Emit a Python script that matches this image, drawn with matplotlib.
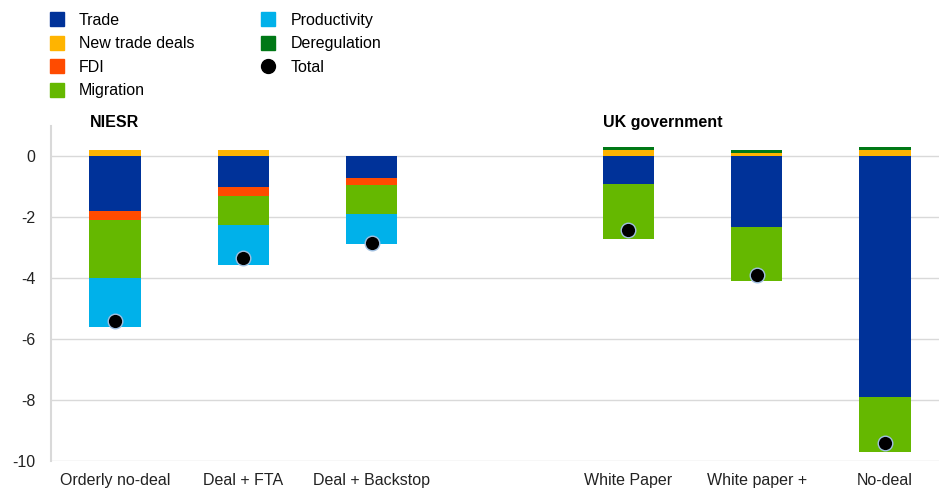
import matplotlib
matplotlib.use("Agg")
import matplotlib.pyplot as plt
from matplotlib.lines import Line2D
import numpy as np

plt.rcParams['font.family'] = ['Liberation Sans', 'DejaVu Sans']

categories = ["Orderly no-deal", "Deal + FTA", "Deal + Backstop",
              "White Paper", "White paper +", "No-deal"]
positions = [0, 1, 2, 4, 5, 6]

trade = [-1.8, -1.0, -0.7, -0.9, -2.3, -7.9]
new_trade_deals = [0.2, 0.2, 0.0, 0.2, 0.1, 0.2]
fdi = [-0.3, -0.3, -0.25, 0.0, 0.0, 0.0]
migration = [-1.9, -0.95, -0.93, -1.8, -1.8, -1.8]
productivity = [-1.6, -1.3, -1.0, 0.0, 0.0, 0.0]
deregulation = [0.0, 0.0, 0.0, 0.1, 0.1, 0.1]
total = [-5.4, -3.35, -2.85, -2.4, -3.9, -9.4]

groups = ["NIESR", "UK government"]
group_first_category = [0, 3]

colors = {
    "Trade": "#003299",
    "New trade deals": "#FFB400",
    "FDI": "#FF4B00",
    "Migration": "#65B800",
    "Productivity": "#00B1EA",
    "Deregulation": "#007816",
}

fig = plt.figure(figsize=(9.39, 4.88), dpi=100)
ax = fig.add_axes([51/939, 1-461/488, 1-51/939, (461-126)/488])

w = 0.4
x = np.array(positions, dtype=float)
neg_series = [("Trade", trade), ("FDI", fdi), ("Migration", migration), ("Productivity", productivity)]
pos_series = [("New trade deals", new_trade_deals), ("Deregulation", deregulation)]

bottom = np.zeros(len(x))
for name, vals in neg_series:
    v = np.array(vals)
    ax.bar(x, v, w, bottom=bottom, color=colors[name], zorder=2, linewidth=0)
    bottom = bottom + v
bottom = np.zeros(len(x))
for name, vals in pos_series:
    v = np.array(vals)
    ax.bar(x, v, w, bottom=bottom, color=colors[name], zorder=2, linewidth=0)
    bottom = bottom + v

ax.scatter(x, total, s=110, color="black", edgecolor="#9fbfe0", linewidth=1.0, zorder=3)

ax.set_xlim(-0.5, 6.42)
ax.set_ylim(-10, 1)
ax.set_yticks([0, -2, -4, -6, -8, -10])
ax.set_yticklabels(["0", "-2", "-4", "-6", "-8", "-10"])
ax.set_xticks(x)
ax.set_xticklabels(categories, va="baseline")
ax.tick_params(axis='both', length=0, labelsize=11.5, colors="#222222")
ax.tick_params(axis='y', pad=11)
ax.tick_params(axis='x', pad=17)
ax.grid(axis='y', color="#d9d9d9", linewidth=1.0, zorder=0)
for s in ["top", "right", "bottom"]:
    ax.spines[s].set_visible(False)
ax.spines["left"].set_color("#d9d9d9")
ax.spines["left"].set_linewidth(1.5)

for g, ci in zip(groups, group_first_category):
    ax.text(positions[ci] - w/2, 1.1, g, fontsize=11.5, fontweight="bold",
            ha="left", va="center", clip_on=False)

handles = [
    Line2D([], [], marker='s', linestyle='', color=colors["Trade"], markersize=10),
    Line2D([], [], marker='s', linestyle='', color=colors["New trade deals"], markersize=10),
    Line2D([], [], marker='s', linestyle='', color=colors["FDI"], markersize=10),
    Line2D([], [], marker='s', linestyle='', color=colors["Migration"], markersize=10),
    Line2D([], [], marker='s', linestyle='', color=colors["Productivity"], markersize=10),
    Line2D([], [], marker='s', linestyle='', color=colors["Deregulation"], markersize=10),
    Line2D([], [], marker='o', linestyle='', color="black", markersize=10),
]
labels = ["Trade", "New trade deals", "FDI", "Migration", "Productivity", "Deregulation", "Total"]
fig.legend(handles, labels, ncol=2, loc="upper left", bbox_to_anchor=(0.045, 0.987),
           frameon=False, fontsize=11.5, handlelength=1.0, handletextpad=0.9,
           columnspacing=4.1, labelspacing=0.53, borderaxespad=0)

fig.savefig("out.png", dpi=100)
